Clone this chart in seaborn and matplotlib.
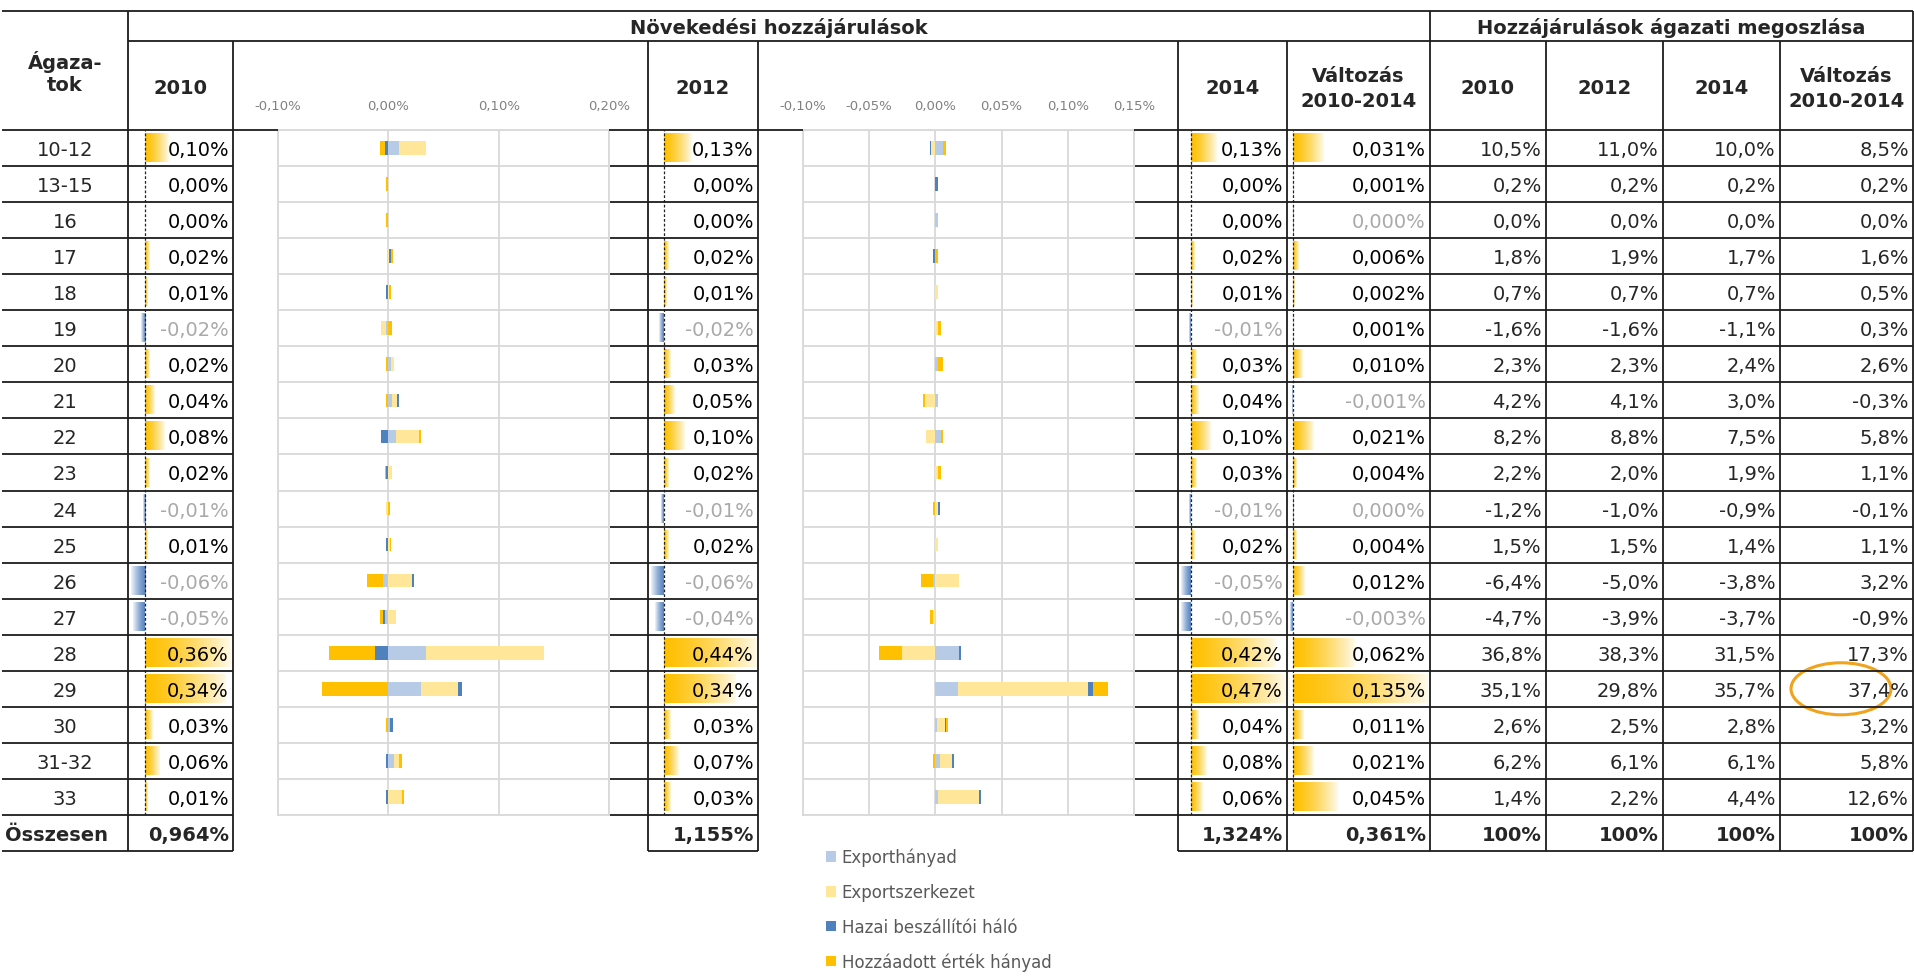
import numpy as np
import matplotlib
matplotlib.use("Agg")
import matplotlib.pyplot as plt
import seaborn as sns
from matplotlib.patches import Ellipse, Patch
from matplotlib.colors import to_rgb

# ---------------- data ----------------
sectors = ["10-12", "13-15", "16", "17", "18", "19", "20", "21", "22", "23",
           "24", "25", "26", "27", "28", "29", "30", "31-32", "33"]

contrib_2010 = [0.10, 0.00, 0.00, 0.02, 0.01, -0.02, 0.02, 0.04, 0.08, 0.02,
                -0.01, 0.01, -0.06, -0.05, 0.36, 0.34, 0.03, 0.06, 0.01]
contrib_2012 = [0.13, 0.00, 0.00, 0.02, 0.01, -0.02, 0.03, 0.05, 0.10, 0.02,
                -0.01, 0.02, -0.06, -0.04, 0.44, 0.34, 0.03, 0.07, 0.03]
contrib_2014 = [0.13, 0.00, 0.00, 0.02, 0.01, -0.01, 0.03, 0.04, 0.10, 0.03,
                -0.01, 0.02, -0.05, -0.05, 0.42, 0.47, 0.04, 0.08, 0.06]
change_2010_2014 = [0.031, 0.001, -0.0003, 0.006, 0.002, 0.001, 0.010, -0.001, 0.021, 0.004,
                    -0.0002, 0.004, 0.012, -0.003, 0.062, 0.135, 0.011, 0.021, 0.045]
total_2010, total_2012, total_2014, total_change = 0.964, 1.155, 1.324, 0.361

share_2010 = [10.5, 0.2, 0.0, 1.8, 0.7, -1.6, 2.3, 4.2, 8.2, 2.2,
              -1.2, 1.5, -6.4, -4.7, 36.8, 35.1, 2.6, 6.2, 1.4]
share_2012 = [11.0, 0.2, 0.0, 1.9, 0.7, -1.6, 2.3, 4.1, 8.8, 2.0,
              -1.0, 1.5, -5.0, -3.9, 38.3, 29.8, 2.5, 6.1, 2.2]
share_2014 = [10.0, 0.2, 0.0, 1.7, 0.7, -1.1, 2.4, 3.0, 7.5, 1.9,
              -0.9, 1.4, -3.8, -3.7, 31.5, 35.7, 2.8, 6.1, 4.4]
share_change = [8.5, 0.2, 0.0, 1.6, 0.5, 0.3, 2.6, -0.3, 5.8, 1.1,
                -0.1, 1.1, 3.2, -0.9, 17.3, 37.4, 3.2, 5.8, 12.6]
share_total = 100

series_names = ["Exporthányad", "Exportszerkezet", "Hazai beszállítói háló", "Hozzáadott érték hányad"]

# decomposition of the change 2010 -> 2012 (percentage points)
d1_export_ratio  = [0.0097, 0, 0, 0, 0, -0.0021, 0.0024, 0.0036, 0.0067, 0,
                    0, 0, -0.0045, -0.0030, 0.0339, 0.0294, 0.0018, 0.0055, 0]
d1_export_struct = [0.0242, 0, 0, 0.0010, 0.0010, -0.0042, 0.0027, 0.0045, 0.0212, 0.0036,
                    -0.0024, 0.0012, 0.0215, 0.0067, 0.1070, 0.0340, 0, 0.0042, 0.0127]
d1_domestic      = [-0.0030, 0, 0, 0.0018, -0.0018, 0, 0, 0.0018, -0.0064, -0.0018,
                    0, -0.0018, 0.0015, -0.0015, -0.0121, 0.0030, 0.0021, -0.0018, -0.0018]
d1_value_added   = [-0.0045, -0.0020, -0.0020, 0.0015, 0.0015, 0.0030, -0.0018, -0.0018, 0.0015, -0.0012,
                    0.0018, 0.0012, -0.0148, -0.0030, -0.0418, -0.0597, -0.0018, 0.0030, 0.0015]

# decomposition of the change 2012 -> 2014 (percentage points)
d2_export_ratio  = [0.0058, 0, 0.0018, 0, 0, 0, 0.0020, 0.0020, 0.0045, 0,
                    0, 0, -0.0018, 0, 0.0179, 0.0172, 0.0015, 0.0033, 0.0020]
d2_export_struct = [-0.0030, 0, 0, 0, 0.0018, 0.0018, 0, -0.0081, -0.0071, 0.0018,
                    0.0018, 0.0020, 0.0180, -0.0018, -0.0253, 0.0980, 0.0056, 0.0096, 0.0310]
d2_domestic      = [-0.0013, 0.0018, 0, -0.0015, 0, 0, 0, 0, 0, 0,
                    0.0013, 0, 0, 0, 0.0015, 0.0035, 0.0012, 0.0015, 0.0013]
d2_value_added   = [0.0025, 0, 0, 0.0018, 0, 0.0025, 0.0035, -0.0015, 0.0013, 0.0025,
                    -0.0015, 0, -0.0088, -0.0025, -0.0174, 0.0114, 0.0010, -0.0015, 0]

chart1_ticks = [-0.10, 0.00, 0.10, 0.20]
chart2_ticks = [-0.10, -0.05, 0.00, 0.05, 0.10, 0.15]

group_titles = ["Növekedési hozzájárulások", "Hozzájárulások ágazati megoszlása"]
col_headers = ["2010", "2012", "2014", "Változás\n2010-2014", "2010", "2012", "2014", "Változás\n2010-2014"]
corner_header = "Ágaza-\ntok"
total_label = "Összesen"

# ---------------- style ----------------
SERIES_COLORS = ["#B7CBE6", "#FFE699", "#4F81BD", "#FFC000"]
BAR_POS = "#FFC000"
BAR_NEG = "#5B87C2"
NEG_TXT = "#A9A9A9"
LINE_C = "#1c1c1c"
GRID_C = "#D9D9D9"
FS = 14

sns.set_style("white")
plt.rcParams["font.family"] = ["DejaVu Sans"]

W, H = 1915, 978
fig = plt.figure(figsize=(W / 100, H / 100), dpi=100)
fig.patch.set_facecolor("white")

TOP, RH = 131.0, 36.05
N = len(sectors)
BOT = TOP + N * RH
TOT_BOT = BOT + 36


def px_axes(x0, y0, x1, y1):
    return fig.add_axes([x0 / W, 1 - y1 / H, (x1 - x0) / W, (y1 - y0) / H])


def pct(v, d):
    if round(v, d) == 0:
        v = abs(v)
    return f"{v:.{d}f}".replace(".", ",") + "%"


# ---------------- stacked decomposition charts ----------------
def stacked_chart(ax, comps, ticks):
    comps = np.array(comps, dtype=float)
    pos = np.cumsum(np.clip(comps, 0, None), axis=0)
    neg = np.cumsum(np.clip(comps, None, 0), axis=0)
    for k in reversed(range(comps.shape[0])):
        for cum in (pos[k], neg[k]):
            sns.barplot(x=cum, y=sectors, order=sectors, orient="h", color=SERIES_COLORS[k],
                        saturation=1, width=0.38, linewidth=0, errorbar=None, ax=ax, zorder=3)
    ax.set_xlim(ticks[0], ticks[-1])
    ax.set_ylim(N - 0.5, -0.5)
    ax.set_xticks(ticks)
    ax.set_xticklabels([pct(t, 2) for t in ticks])
    ax.xaxis.tick_top()
    ax.tick_params(axis="x", length=0, pad=13, labelsize=9.5, labelcolor="#808080")
    ax.set_yticks([])
    ax.set_yticks(np.arange(-0.5, N, 1), minor=True)
    ax.tick_params(axis="y", which="both", length=0, labelleft=False)
    ax.grid(axis="x", color=GRID_C, lw=1.3)
    ax.grid(axis="y", which="minor", color=GRID_C, lw=1.3)
    ax.set_axisbelow(True)
    for s in ax.spines.values():
        s.set_color(GRID_C)
        s.set_linewidth(1.3)
    ax.set_xlabel("")
    ax.set_ylabel("")


ax1 = px_axes(278, TOP, 609, BOT)
stacked_chart(ax1, [d1_export_ratio, d1_export_struct, d1_domestic, d1_value_added], chart1_ticks)
ax2 = px_axes(803, TOP, 1134, BOT)
stacked_chart(ax2, [d2_export_ratio, d2_export_struct, d2_domestic, d2_value_added], chart2_ticks)


# ---------------- data-bar columns ----------------
def gradient_bars(ax):
    for p in list(ax.patches):
        w = p.get_width()
        if abs(w) < 1e-12:
            p.set_visible(False)
            continue
        base = np.array(to_rgb(BAR_POS if w > 0 else BAR_NEG))
        t = np.linspace(0, 1, 256)[:, None]
        f = 0.92 * t ** 1.4
        cols = base[None, :] * (1 - f) + f
        y, h, x0 = p.get_y(), p.get_height(), p.get_x()
        ax.imshow(cols[None, :, :], extent=[x0, x0 + w, y + h, y], aspect="auto",
                  interpolation="bilinear", zorder=2)
        p.set_visible(False)


def databar_col(x0, x1, vals):
    ax = px_axes(x0 + 3, TOP, x1 - 2, BOT)
    v = np.array(vals, dtype=float)
    sns.barplot(x=np.where(v > 0, v, 0), y=sectors, order=sectors, orient="h", color=BAR_POS,
                saturation=1, width=0.78, linewidth=0, errorbar=None, ax=ax)
    sns.barplot(x=np.where(v < 0, v, 0), y=sectors, order=sectors, orient="h", color=BAR_NEG,
                saturation=1, width=0.78, linewidth=0, errorbar=None, ax=ax)
    gradient_bars(ax)
    ax.axvline(0, color="#222222", lw=0.9, ls=(0, (2.2, 1.6)), zorder=4)
    ax.set_xlim(min(0, v.min()), v.max())
    ax.set_ylim(N - 0.5, -0.5)
    ax.axis("off")
    return ax


databar_col(128, 233, contrib_2010)
databar_col(648, 758, contrib_2012)
databar_col(1178, 1287, contrib_2014)
databar_col(1287, 1430, change_2010_2014)

# ---------------- overlay: table lines and texts ----------------
ov = fig.add_axes([0, 0, 1, 1])
ov.set_xlim(0, W)
ov.set_ylim(H, 0)
ov.axis("off")
ov.set_zorder(10)

LW = 1.3


def hl(y, segs):
    for a, b in segs:
        ov.plot([a, b], [y, y], color=LINE_C, lw=LW, solid_capstyle="butt")


def vl(x, y0, y1):
    ov.plot([x, x], [y0, y1], color=LINE_C, lw=LW, solid_capstyle="butt")


hl(12, [(2, 1913)])
hl(42, [(128, 1913)])
hl(TOP, [(2, 278), (609, 803), (1134, 1913)])
for k in range(1, N + 1):
    hl(TOP + k * RH, [(2, 233), (610, 758), (1135, 1913)])
hl(TOT_BOT, [(2, 233), (648, 758), (1178, 1913)])

vl(128, 12, TOT_BOT)
vl(1430, 12, TOT_BOT)
vl(1913, 12, TOT_BOT)
for x in (233, 648, 758, 1178, 1287, 1546, 1663, 1780):
    vl(x, 42, TOT_BOT)

# headers
ov.text(65, 73, corner_header, ha="center", va="center", fontsize=FS, fontweight="bold", linespacing=1.25)
ov.text(779, 28, group_titles[0], ha="center", va="center", fontsize=FS, fontweight="bold")
ov.text(1671, 28, group_titles[1], ha="center", va="center", fontsize=FS, fontweight="bold")
hdr_x = [180.5, 703, 1232.5, 1358.5, 1488, 1604.5, 1721.5, 1846.5]
for x, s in zip(hdr_x, col_headers):
    ov.text(x, 89, s, ha="center", va="center", fontsize=FS, fontweight="bold", linespacing=1.35)

# body rows
value_cols = [(233, contrib_2010, 2), (758, contrib_2012, 2), (1287, contrib_2014, 2),
              (1430, change_2010_2014, 3)]
share_cols = [(1546, share_2010), (1663, share_2012), (1780, share_2014), (1913, share_change)]
for i, s in enumerate(sectors):
    yc = TOP + RH * (i + 0.5) + 1.5
    ov.text(65, yc, s, ha="center", va="center", fontsize=FS)
    for xr, vals, d in value_cols:
        v = vals[i]
        ov.text(xr - 4, yc, pct(v, d), ha="right", va="center", fontsize=FS,
                color=NEG_TXT if v < 0 else "black")
    for xr, vals in share_cols:
        ov.text(xr - 4, yc, pct(vals[i], 1), ha="right", va="center", fontsize=FS)

# total row
yt = (BOT + TOT_BOT) / 2 + 1.5
ov.text(5, yt, total_label, ha="left", va="center", fontsize=FS, fontweight="bold")
for xr, v in zip((233, 758, 1287, 1430), (total_2010, total_2012, total_2014, total_change)):
    ov.text(xr - 4, yt, pct(v, 3), ha="right", va="center", fontsize=FS, fontweight="bold")
for xr, _ in share_cols:
    ov.text(xr - 4, yt, f"{share_total}%", ha="right", va="center", fontsize=FS, fontweight="bold")

# highlight ellipse
ov.add_patch(Ellipse((1841, TOP + RH * 15.5), 100, 52, fill=False, edgecolor="#F0A31C", lw=2.2))

# legend
handles = [Patch(facecolor=c, edgecolor="none", label=n) for c, n in zip(SERIES_COLORS, series_names)]
fig.legend(handles=handles, loc="upper left", bbox_to_anchor=(826 / W, 1 - 849 / H),
           frameon=False, fontsize=12, labelcolor="#595959", handlelength=0.6,
           handleheight=0.6, handletextpad=0.35, labelspacing=1.0, borderpad=0, borderaxespad=0)

fig.savefig("out.png", dpi=100, facecolor="white")
